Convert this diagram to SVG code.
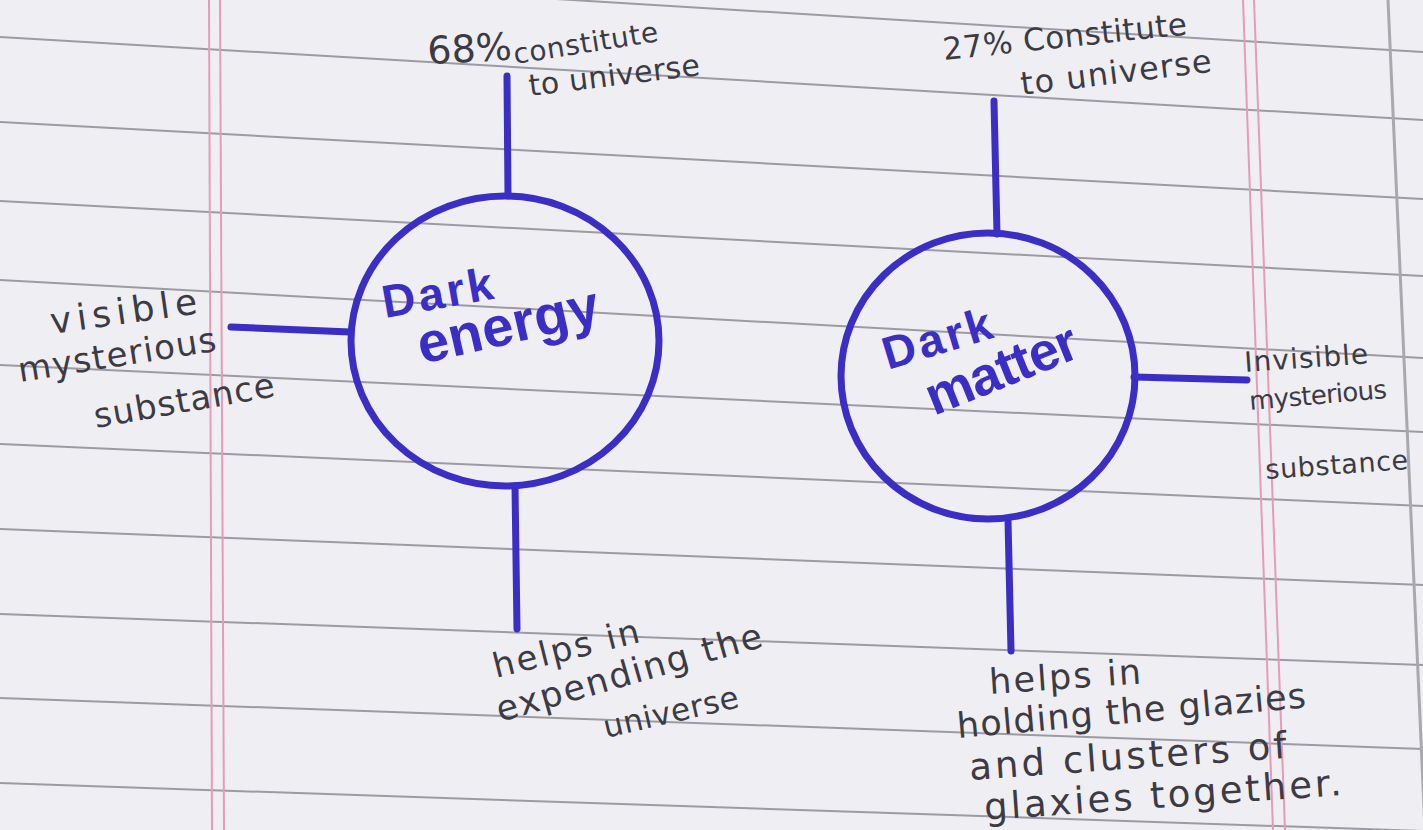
<svg xmlns="http://www.w3.org/2000/svg" width="1423" height="830" viewBox="0 0 1423 830">
<defs>
<style>
.rule{stroke:#9c9ba3;stroke-width:2;fill:none}
.margin{stroke:#e79bb5;stroke-width:2;fill:none}
.pen{stroke:#3b2ec4;stroke-width:7;fill:none;stroke-linecap:round}
.ring{stroke:#3b2ec4;stroke-width:7;fill:none}
.hand{font-family:"DejaVu Sans","Liberation Sans",sans-serif;fill:#3c3b44}
.title{font-family:"Liberation Sans","DejaVu Sans",sans-serif;font-weight:bold;fill:#3b2ec4}
</style>
</defs>
<rect width="1423" height="830" fill="#efeef2"/>
<g id="paper">
<line class="rule" x1="0" y1="-35" x2="1423" y2="52"/>
<line class="rule" x1="0" y1="37" x2="1423" y2="120"/>
<line class="rule" x1="0" y1="122" x2="1423" y2="199"/>
<line class="rule" x1="0" y1="201" x2="1423" y2="276"/>
<line class="rule" x1="0" y1="280" x2="1423" y2="358"/>
<line class="rule" x1="0" y1="365" x2="1423" y2="432"/>
<line class="rule" x1="0" y1="444" x2="1423" y2="506"/>
<line class="rule" x1="0" y1="529" x2="1423" y2="585"/>
<line class="rule" x1="0" y1="614" x2="1423" y2="665"/>
<line class="rule" x1="0" y1="698" x2="1423" y2="749"/>
<line class="rule" x1="0" y1="783" x2="1423" y2="831"/>
<line class="margin" x1="209" y1="0" x2="212" y2="830"/>
<line class="margin" x1="220" y1="0" x2="224" y2="830"/>
<line class="margin" x1="1243" y1="0" x2="1273" y2="830"/>
<line class="margin" x1="1254" y1="0" x2="1285" y2="830"/>
<line x1="1388" y1="0" x2="1425" y2="830" stroke="#a9a8ae" stroke-width="3"/>
</g>
<g id="connectors">
<line class="pen" x1="507" y1="76" x2="508" y2="196"/>
<line class="pen" x1="231" y1="327" x2="350" y2="332"/>
<line class="pen" x1="515" y1="486" x2="517" y2="629"/>
<line class="pen" x1="994" y1="101" x2="997" y2="234"/>
<line class="pen" x1="1134" y1="377" x2="1247" y2="380"/>
<line class="pen" x1="1008" y1="520" x2="1011" y2="651"/>
</g>
<g id="dark-energy">
<ellipse class="ring" cx="505" cy="341" rx="154" ry="145"/>
<text class="title" font-size="46" textLength="112" transform="translate(385,318) rotate(-10)">Dark</text>
<text class="title" font-size="56" textLength="185" transform="translate(422,364) rotate(-13)">energy</text>
</g>
<g id="dark-matter">
<ellipse class="ring" cx="988" cy="376" rx="147" ry="143"/>
<text class="title" font-size="46" textLength="112" transform="translate(888,370) rotate(-17)">Dark</text>
<text class="title" font-size="54" textLength="160" transform="translate(934,416) rotate(-22)">matter</text>
</g>
<g id="label-top-left">
<text class="hand" font-size="38" transform="translate(428,64) rotate(-3)">68%</text>
<text class="hand" font-size="28" textLength="146" transform="translate(515,64) rotate(-9)">constitute</text>
<text class="hand" font-size="30" textLength="172" transform="translate(530,96) rotate(-7)">to universe</text>
</g>
<g id="label-top-right">
<text class="hand" font-size="31" textLength="245" transform="translate(944,60) rotate(-6)">27% Constitute</text>
<text class="hand" font-size="32" textLength="192" transform="translate(1022,95) rotate(-7)">to universe</text>
</g>
<g id="label-left">
<text class="hand" font-size="36" textLength="148" transform="translate(52,334) rotate(-8)">visible</text>
<text class="hand" font-size="34" textLength="200" transform="translate(20,382) rotate(-9)">mysterious</text>
<text class="hand" font-size="34" textLength="183" transform="translate(96,428) rotate(-10)">substance</text>
</g>
<g id="label-right">
<text class="hand" font-size="28" textLength="124" transform="translate(1245,372) rotate(-4)">Invisible</text>
<text class="hand" font-size="26" textLength="138" transform="translate(1250,410) rotate(-5)">mysterious</text>
<text class="hand" font-size="27" textLength="143" transform="translate(1266,479) rotate(-4)">substance</text>
</g>
<g id="label-bottom-left">
<text class="hand" font-size="34" textLength="150" transform="translate(496,678) rotate(-14)">helps in</text>
<text class="hand" font-size="35" textLength="275" transform="translate(500,722) rotate(-16)">expending the</text>
<text class="hand" font-size="31" textLength="138" transform="translate(606,738) rotate(-13)">universe</text>
</g>
<g id="label-bottom-right">
<text class="hand" font-size="35" textLength="152" transform="translate(990,694) rotate(-4)">helps   in</text>
<text class="hand" font-size="35" textLength="350" transform="translate(958,738) rotate(-5)">holding the glazies</text>
<text class="hand" font-size="37" textLength="318" transform="translate(970,780) rotate(-4)">and clusters of</text>
<text class="hand" font-size="37" textLength="358" transform="translate(985,820) rotate(-4)">glaxies together.</text>
</g>
</svg>
